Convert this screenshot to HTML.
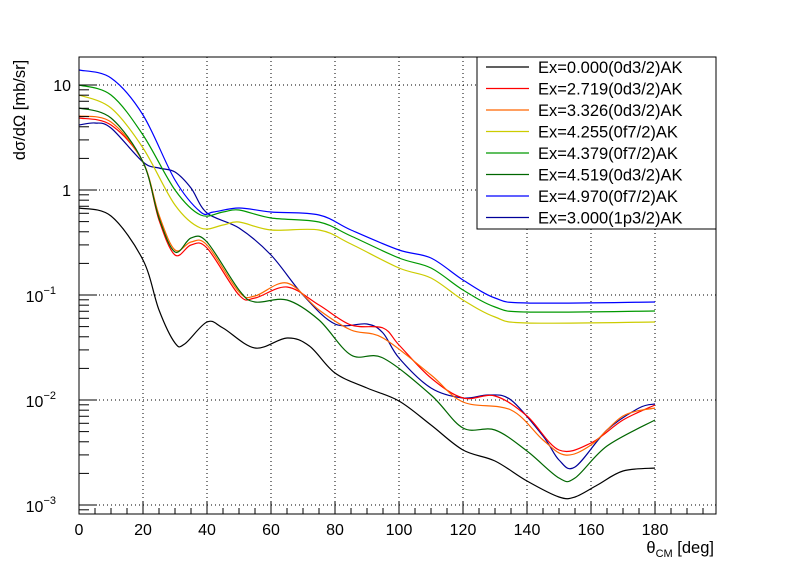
<!DOCTYPE html>
<html><head><meta charset="utf-8"><style>
body{margin:0;background:#fff}
svg{display:block;font-family:"Liberation Sans",sans-serif}
</style></head><body>
<svg id="s" width="796" height="572" xmlns="http://www.w3.org/2000/svg">
<rect width="796" height="572" fill="#fff"/>
<g id="grid" stroke="#000" stroke-width="1" stroke-dasharray="1,3"></g>
<g id="curves" fill="none" stroke-width="1.2"></g>
<rect x="79" y="57" width="637" height="457" fill="none" stroke="#000" stroke-width="1"/>
<g id="ticks" stroke="#000" stroke-width="1"></g>
<g id="labels" font-size="16" fill="#000"></g>
<text x="25" y="110" font-size="16.5" transform="rotate(-90 25 110)" text-anchor="middle">dσ/dΩ [mb/sr]</text>
<text x="714" y="553" font-size="16.5" text-anchor="end">θ<tspan font-size="11" dy="4">CM</tspan><tspan dy="-4"> [deg]</tspan></text>
<rect x="477" y="57" width="239" height="172" fill="#fff" stroke="#000"/>
<g id="leg" font-size="16.5"></g>
</svg>
<script>
const X=d=>79+d*3.2, NS="http://www.w3.org/2000/svg";
function el(p,t,a,txt){const e=document.createElementNS(NS,t);for(const k in a)e.setAttribute(k,a[k]);if(txt!=null)e.textContent=txt;document.getElementById(p).appendChild(e);return e;}
const Yl=l=>190-l*105;
for(let d=20;d<=180;d+=20)el('grid','line',{x1:X(d),y1:57,x2:X(d),y2:514});
for(let l=-3;l<=1;l++)el('grid','line',{x1:79,y1:Yl(l),x2:716,y2:Yl(l)});
for(let d=0;d<=195;d+=5){const L=d%20==0?12:6;el('ticks','line',{x1:X(d),y1:514,x2:X(d),y2:514-L});}
for(let d=0;d<=180;d+=20)el('labels','text',{x:X(d),y:535,'text-anchor':'middle'},d);
for(let l=-4;l<=1;l++)for(let m=1;m<=9;m++){const y=Yl(l+Math.log10(m));if(y<57||y>514)continue;el('ticks','line',{x1:79,y1:y,x2:79+(m==1?18:10),y2:y});}
el('labels','text',{x:71,y:Yl(1)+6,'text-anchor':'end'},'10');
el('labels','text',{x:71,y:Yl(0)+6,'text-anchor':'end'},'1');
const ex=[[-1,"1"],[-2,"2"],[-3,"3"]];
for(const [l,e] of ex){const t=el('labels','text',{x:56,y:Yl(l)+7,'text-anchor':'end'},'10');const ts=document.createElementNS(NS,'tspan');ts.setAttribute('font-size','11');ts.setAttribute('dy','-8');ts.textContent='−'+e;t.appendChild(ts);}
function path(pts){const P=pts.map(([d,y])=>[X(d),y]);let s=`M${P[0][0]},${P[0][1]}`;
for(let i=0;i<P.length-1;i++){const p0=P[i-1]||P[i],p1=P[i],p2=P[i+1],p3=P[i+2]||p2;
s+=` C${p1[0]+(p2[0]-p0[0])/6},${p1[1]+(p2[1]-p0[1])/6} ${p2[0]-(p3[0]-p1[0])/6},${p2[1]-(p3[1]-p1[1])/6} ${p2[0]},${p2[1]}`;}return s;}
const C=[
["#000",[[0,208],[10,216],[20,260],[25,310],[30,343],[33,344],[40,322],[45,328],[55,348],[65,338],[72,346],[80,373],[90,388],[100,401],[110,425],[120,450],[130,461],[140,481],[150,497],[155,497],[162,485],[170,471],[180,468]]],
["#000099",[[0,125],[5,123],[10,128],[20,162],[25,168],[30,172],[35,188],[40,213],[50,228],[60,255],[70,295],[80,324],[90,324],[95,333],[100,358],[110,388],[120,398],[128,395],[135,400],[145,436],[150,460],[155,467],[165,430],[175,408],[180,404]]],
["#ff0000",[[0,118],[10,125],[20,162],[25,220],[30,255],[35,245],[40,248],[50,295],[55,298],[65,287],[75,305],[85,325],[95,328],[100,345],[110,378],[120,398],[130,396],[140,416],[150,450],[160,443],[170,420],[180,405]]],
["#ff6600",[[0,116],[10,122],[20,162],[25,215],[30,250],[35,242],[40,245],[50,292],[55,296],[65,283],[75,310],[85,330],[95,338],[110,375],[120,402],[135,410],[145,440],[152,455],[160,445],[170,416],[180,408]]],
["#006600",[[0,108],[10,118],[20,162],[25,218],[30,252],[35,238],[40,242],[50,290],[55,302],[65,300],[75,320],[85,355],[95,358],[110,395],[120,428],[130,430],[140,451],[150,478],[155,478],[165,446],[180,420]]],
["#cccc00",[[0,95],[10,108],[20,148],[30,205],[38,228],[45,225],[50,222],[60,230],[75,230],[85,244],[100,268],[110,278],[120,300],[130,317],[140,323],[180,322]]],
["#009900",[[0,85],[10,95],[20,135],[30,190],[38,215],[45,212],[50,210],[60,218],[75,222],[85,236],[100,258],[110,268],[120,290],[130,307],[140,312],[180,311]]],
["#0000ff",[[0,70],[10,78],[20,115],[30,180],[38,212],[42,212],[50,208],[60,212],[75,215],[85,230],[100,250],[110,258],[120,280],[130,298],[140,303],[180,302]]]];
for(const [c,p] of C)el('curves','path',{d:path(p),stroke:c});
const L=[["#000","Ex=0.000(0d3/2)AK"],["#ff0000","Ex=2.719(0d3/2)AK"],["#ff6600","Ex=3.326(0d3/2)AK"],["#cccc00","Ex=4.255(0f7/2)AK"],["#009900","Ex=4.379(0f7/2)AK"],["#006600","Ex=4.519(0d3/2)AK"],["#0000ff","Ex=4.970(0f7/2)AK"],["#000099","Ex=3.000(1p3/2)AK"]];
L.forEach(([c,t],i)=>{const y=67+i*21.5;el('leg','line',{x1:486,y1:y,x2:529,y2:y,stroke:c,'stroke-width':1.2});el('leg','text',{x:538,y:y+6},t);});
</script>
</body></html>
